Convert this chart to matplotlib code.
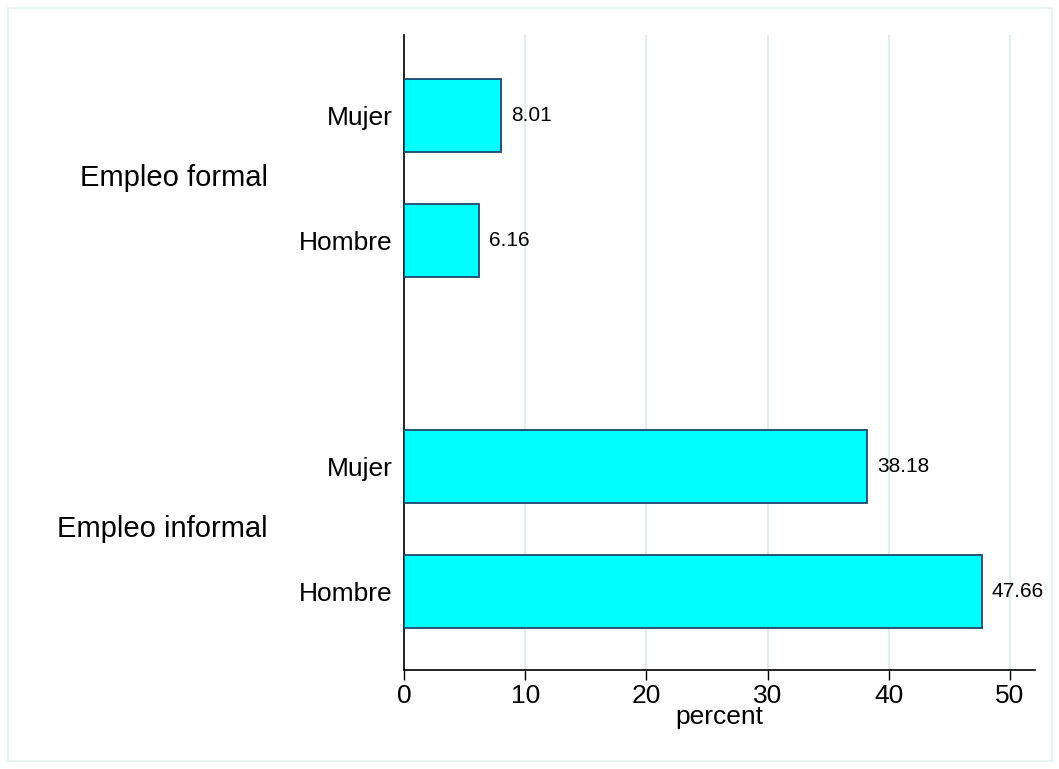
import matplotlib.pyplot as plt
from matplotlib.patches import Rectangle
from matplotlib.transforms import blended_transform_factory

# Datos
grupos = ['Empleo formal', 'Empleo informal']
sexos = ['Mujer', 'Hombre']
valores = {
    'Empleo formal': [8.01, 6.16],
    'Empleo informal': [38.18, 47.66],
}
ticks_x = [0, 10, 20, 30, 40, 50]

plt.rcParams['font.family'] = ['Liberation Sans', 'DejaVu Sans']

fig = plt.figure(figsize=(10.59, 7.69), dpi=100)
ax = fig.add_axes([404 / 1059, 1 - 670 / 769, (1035 - 404) / 1059, (670 - 35) / 769])

# marco claro alrededor del grafico
fig.patches.append(Rectangle((8 / 1059, 8 / 769), 1044 / 1059, 753 / 769,
                             transform=fig.transFigure, fill=False,
                             edgecolor='#e6eff1', linewidth=1.2))

# posiciones: de abajo hacia arriba
salto_grupo = 226 / 125
pos = {}
y = 0.0
posiciones, etiquetas, vals = [], [], []
for g in reversed(grupos):
    for s, v in zip(reversed(sexos), reversed(valores[g])):
        posiciones.append(y)
        etiquetas.append(s)
        vals.append(v)
        y += 1
    pos[g] = (posiciones[-1] + posiciones[-2]) / 2
    y += salto_grupo - 1

bars = ax.barh(posiciones, vals, height=0.584, color='#00ffff',
               edgecolor='#1a476f', linewidth=1.3, zorder=3)

for b, v in zip(bars, vals):
    ax.text(b.get_width() + 0.85, b.get_y() + b.get_height() / 2, f'{v:.2f}',
            va='center', ha='left', fontsize=15)

ax.set_yticks(posiciones)
ax.set_yticklabels(etiquetas, fontsize=19)
ax.tick_params(axis='y', length=0, pad=8)

trans = blended_transform_factory(fig.transFigure, ax.transData)
for g in grupos:
    ax.text(268 / 1059, pos[g], g, transform=trans,
            ha='right', va='center', fontsize=21)

ax.set_xlim(0, (1035 - 404) / 12.12)
ax.set_ylim(-78.5 / 125, 556.5 / 125)
ax.set_xticks(ticks_x)
ax.tick_params(axis='x', labelsize=19, length=7, width=1, pad=3)
ax.set_xlabel('percent', fontsize=19, labelpad=-2)

ax.grid(axis='x', color='#e4ecee', linewidth=1.5, zorder=0)
ax.set_axisbelow(True)
for lado in ['top', 'right']:
    ax.spines[lado].set_visible(False)
ax.spines['left'].set_linewidth(1.2)
ax.spines['bottom'].set_linewidth(1.2)

plt.savefig('out.png', dpi=100)
